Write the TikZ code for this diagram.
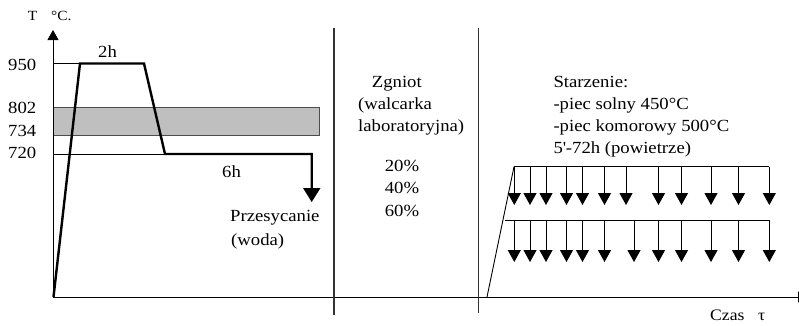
\documentclass[tikz,border=0pt]{standalone}
\usepackage{fontspec}
\setmainfont{Liberation Serif}[FakeStretch=1.1]
\usetikzlibrary{arrows.meta}
\begin{document}
\begin{tikzpicture}[x=1pt,y=-1pt,
  thinl/.style={line width=0.9pt, black},
  thickl/.style={line width=2.4pt, black, line join=miter},
  sep/.style={line width=1.3pt, black!80},
  drop/.style={line width=1pt, black, -{Triangle[width=13pt,length=12pt]}},
  lbl/.style={font=\fontsize{17}{20}\selectfont, inner sep=0pt, anchor=base west},
  pct/.style={font=\fontsize{17}{20}\selectfont, inner sep=0pt, anchor=base},
  small/.style={font=\fontsize{14}{16}\selectfont, inner sep=0pt, anchor=base west},
  axlbl/.style={font=\fontsize{16}{18}\selectfont, inner sep=0pt, anchor=base west}]
\useasboundingbox (0,0) rectangle (799,325);
\clip (0,0) rectangle (799,325);
% band 734-802
\filldraw[fill=black!25, draw=black!70, line width=0.9pt] (53,107.7) rectangle (319,135.5);
% axes
\coordinate (O) at (53,297);
\coordinate (Ytop) at (53,30);
\coordinate (Xend) at (808,297);
\draw[thinl, -{Triangle[width=11pt,length=10pt]}] (O) -- (Ytop);
\draw[thinl, -{Triangle[width=11pt,length=10pt]}] (O) -- (Xend);
% reference lines
\draw[thinl] (53,63.5) -- (80,63.5);
\draw[thinl] (53,154) -- (165,154);
% heating curve
\coordinate (c0) at (53.5,297);
\coordinate (c1) at (80,63.5);
\coordinate (c2) at (144,63.5);
\coordinate (c3) at (165,154);
\coordinate (c4) at (311.7,154);
\coordinate (c5) at (311.7,189);
\draw[thickl] (c0) -- (c1) -- (c2) -- (c3) -- (c4) -- (c5);
\fill (303,188) -- (320.5,188) -- (311.7,202) -- cycle;
% separators
\draw[sep] (334,28) -- (334,315);
\draw[sep] (478.5,28) -- (478.5,313);
% ageing
\coordinate (r0) at (487,297);
\coordinate (r1) at (514,166.7);
\draw[thinl] (r0) -- (r1);
\draw[thinl] (r1) -- (769.3,166.7);
\draw[thinl] (505,220) -- (769.3,220);
\foreach \x in {514.3,530,546,566.5,582.5,604.5,626,658.5,681.5,711,738.5,769.3}
  \draw[drop] (\x,166.7) -- (\x,205);
\foreach \x in {514.3,530,546,566.5,582.5,604.5,634,658.5,681.5,711,738.5,769.3}
  \draw[drop] (\x,220) -- (\x,262);
% labels
\node[small] (T) at (27.7,20.7) {T};
\node[small] (degC) at (51,20.7) {°C.};
\node[lbl] (t950) at (8,70.5) {950};
\node[lbl] (t802) at (8,113) {802};
\node[lbl] (t734) at (8,136.7) {734};
\node[lbl] (t720) at (8,158) {720};
\node[lbl] (h2) at (98,57) {2h};
\node[lbl] (h6) at (222,177) {6h};
\node[lbl] (prz) at (230,221) {Przesycanie};
\node[lbl] (woda) at (231,245) {(woda)};
\node[lbl] (zg) at (371.7,87.3) {Zgniot};
\node[lbl] (wal) at (358,109) {(walcarka};
\node[lbl] (lab) at (358,131) {laboratoryjna)};
\node[pct] (p20) at (402,171.7) {20\%};
\node[pct] (p40) at (402,193.3) {40\%};
\node[pct] (p60) at (402,216) {60\%};
\node[lbl] (st) at (553.3,87.3) {Starzenie:};
\node[lbl] (ps) at (553.3,109) {-piec solny 450°C};
\node[lbl] (pk) at (553.3,131) {-piec komorowy 500°C};
\node[lbl] (pw) at (553.3,153) {5\textquotesingle-72h (powietrze)};
\node[axlbl] (czas) at (710,320) {Czas};
\node[axlbl] (tau) at (758,320) {τ};
\end{tikzpicture}
\end{document}
